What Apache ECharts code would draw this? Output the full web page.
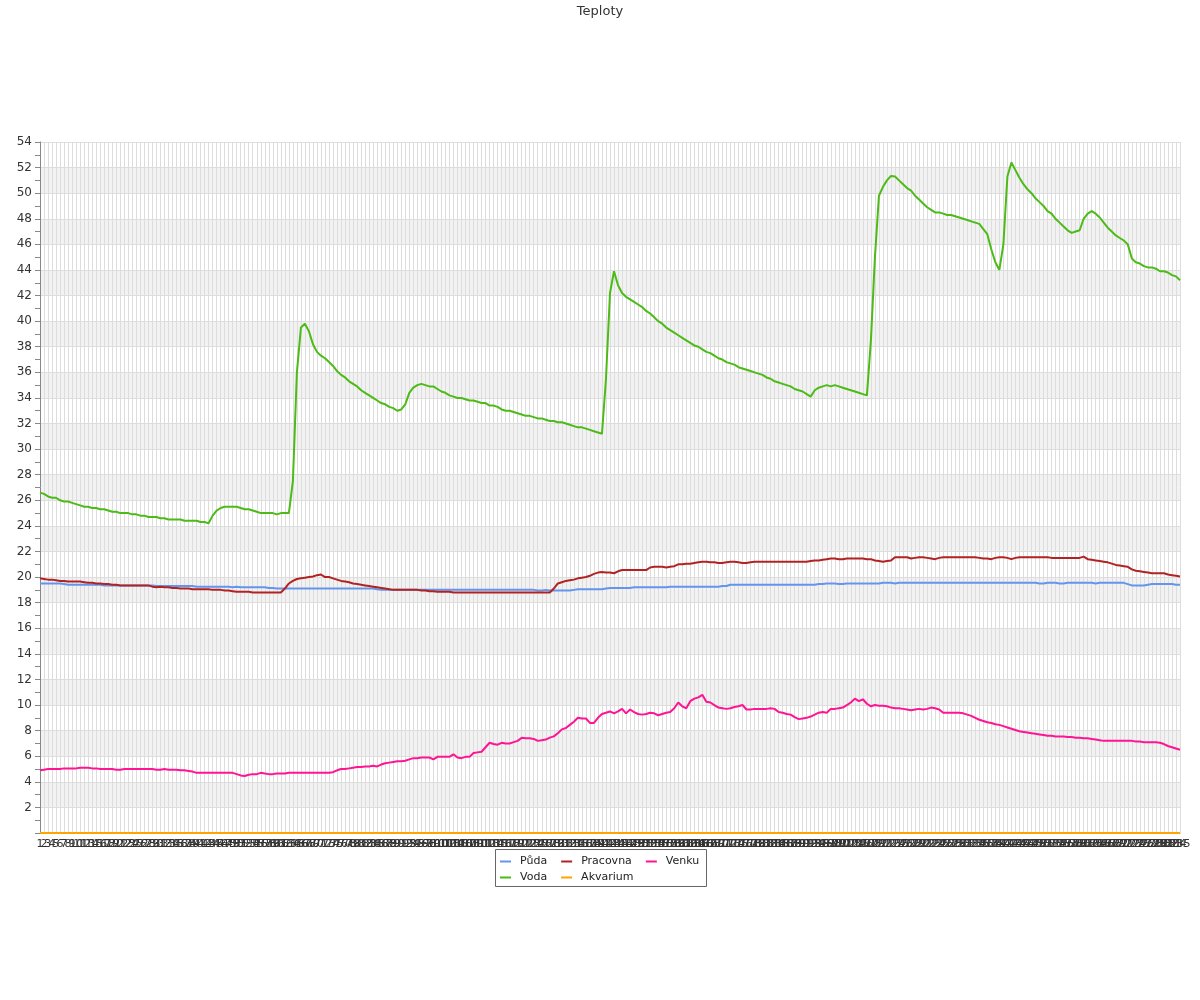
<!DOCTYPE html>
<html><head><meta charset="utf-8">
<script src="https://cdn.jsdelivr.net/npm/echarts@6/dist/echarts.min.js"></script>
<style>html,body{margin:0;padding:0;background:#fff}#c{width:1200px;height:1000px}</style>
</head><body><div id="c"></div>
<script>
const categories = [
1,2,3,4,5,6,7,8,9,10,11,12,13,14,15,16,17,18,19,20,
21,22,23,24,25,26,27,28,29,30,31,32,33,34,35,36,37,38,39,40,
41,42,43,44,45,46,47,48,49,50,51,52,53,54,55,56,57,58,59,60,
61,62,63,64,65,66,67,68,69,70,71,72,73,74,75,76,77,78,79,80,
81,82,83,84,85,86,87,88,89,90,91,92,93,94,95,96,97,98,99,100,
101,102,103,104,105,106,107,108,109,110,111,112,113,114,115,116,117,118,119,120,
121,122,123,124,125,126,127,128,129,130,131,132,133,134,135,136,137,138,139,140,
141,142,143,144,145,146,147,148,149,150,151,152,153,154,155,156,157,158,159,160,
161,162,163,164,165,166,167,168,169,170,171,172,173,174,175,176,177,178,179,180,
181,182,183,184,185,186,187,188,189,190,191,192,193,194,195,196,197,198,199,200,
201,202,203,204,205,206,207,208,209,210,211,212,213,214,215,216,217,218,219,220,
221,222,223,224,225,226,227,228,229,230,231,232,233,234,235,236,237,238,239,240,
241,242,243,244,245,246,247,248,249,250,251,252,253,254,255,256,257,258,259,260,
261,262,263,264,265,266,267,268,269,270,271,272,273,274,275,276,277,278,279,280,
281,282,283,284,285
];

const puda = [
19.5,19.5,19.5,19.5,19.5,19.5,19.45,19.4,19.4,19.4,
19.4,19.4,19.4,19.4,19.4,19.4,19.35,19.35,19.35,19.35,
19.35,19.35,19.35,19.35,19.35,19.35,19.35,19.35,19.35,19.3,
19.3,19.3,19.3,19.3,19.3,19.3,19.3,19.3,19.3,19.25,
19.25,19.25,19.25,19.25,19.25,19.25,19.25,19.25,19.2,19.25,
19.2,19.2,19.2,19.2,19.2,19.2,19.2,19.15,19.15,19.1,
19.1,19.1,19.1,19.1,19.1,19.1,19.1,19.1,19.1,19.1,
19.1,19.1,19.1,19.1,19.1,19.1,19.1,19.1,19.1,19.1,
19.1,19.1,19.1,19.1,19.05,19.0,19.0,19.0,19.0,19.0,
19.0,19.0,19.0,19.0,19.0,19.0,19.0,19.0,19.0,19.0,
19.0,19.0,19.0,19.0,19.0,19.0,19.0,19.0,19.0,19.0,
19.0,19.0,19.0,19.0,19.0,19.0,19.0,19.0,19.0,19.0,
19.0,19.0,19.0,19.0,18.95,18.95,19.0,18.95,18.95,18.95,
18.95,18.95,18.95,19.0,19.05,19.05,19.05,19.05,19.05,19.05,
19.05,19.1,19.15,19.15,19.15,19.15,19.15,19.15,19.2,19.2,
19.2,19.2,19.2,19.2,19.2,19.2,19.2,19.25,19.25,19.25,
19.25,19.25,19.25,19.25,19.25,19.25,19.25,19.25,19.25,19.25,
19.3,19.3,19.4,19.4,19.4,19.4,19.4,19.4,19.4,19.4,
19.4,19.4,19.4,19.4,19.4,19.4,19.4,19.4,19.4,19.4,
19.4,19.4,19.4,19.4,19.45,19.45,19.5,19.5,19.5,19.45,
19.45,19.5,19.5,19.5,19.5,19.5,19.5,19.5,19.5,19.5,
19.55,19.55,19.55,19.5,19.55,19.55,19.55,19.55,19.55,19.55,
19.55,19.55,19.55,19.55,19.55,19.55,19.55,19.55,19.55,19.55,
19.55,19.55,19.55,19.55,19.55,19.55,19.55,19.55,19.55,19.55,
19.55,19.55,19.55,19.55,19.55,19.55,19.55,19.55,19.55,19.5,
19.5,19.55,19.55,19.55,19.5,19.5,19.55,19.55,19.55,19.55,
19.55,19.55,19.55,19.5,19.55,19.55,19.55,19.55,19.55,19.55,
19.55,19.45,19.35,19.35,19.35,19.35,19.4,19.45,19.45,19.45,
19.45,19.45,19.45,19.4,19.4
];

const voda = [
26.6,26.5,26.3,26.2,26.2,26.0,25.9,25.9,25.8,25.7,
25.6,25.5,25.5,25.4,25.4,25.3,25.3,25.2,25.1,25.1,
25.0,25.0,25.0,24.9,24.9,24.8,24.8,24.7,24.7,24.7,
24.6,24.6,24.5,24.5,24.5,24.5,24.4,24.4,24.4,24.4,
24.3,24.3,24.2,24.8,25.2,25.4,25.5,25.5,25.5,25.5,
25.4,25.3,25.3,25.2,25.1,25.0,25.0,25.0,25.0,24.9,
25.0,25.0,25.0,27.5,36.0,39.5,39.8,39.2,38.2,37.6,
37.3,37.1,36.8,36.5,36.1,35.8,35.6,35.3,35.1,34.9,
34.6,34.4,34.2,34.0,33.8,33.6,33.5,33.3,33.2,33.0,
33.1,33.5,34.4,34.8,35.0,35.1,35.0,34.9,34.9,34.7,
34.5,34.4,34.2,34.1,34.0,34.0,33.9,33.8,33.8,33.7,
33.6,33.6,33.4,33.4,33.3,33.1,33.0,33.0,32.9,32.8,
32.7,32.6,32.6,32.5,32.4,32.4,32.3,32.2,32.2,32.1,
32.1,32.0,31.9,31.8,31.7,31.7,31.6,31.5,31.4,31.3,
31.2,35.5,42.2,43.9,42.8,42.2,41.9,41.7,41.5,41.3,
41.1,40.8,40.6,40.3,40.0,39.8,39.5,39.3,39.1,38.9,
38.7,38.5,38.3,38.1,38.0,37.8,37.6,37.5,37.3,37.1,
37.0,36.8,36.7,36.6,36.4,36.3,36.2,36.1,36.0,35.9,
35.8,35.6,35.5,35.3,35.2,35.1,35.0,34.9,34.7,34.6,
34.5,34.3,34.1,34.6,34.8,34.9,35.0,34.9,35.0,34.9,
34.8,34.7,34.6,34.5,34.4,34.3,34.2,38.5,45.0,49.8,
50.5,51.0,51.35,51.3,51.0,50.7,50.4,50.2,49.8,49.5,
49.2,48.9,48.7,48.5,48.5,48.4,48.3,48.3,48.2,48.1,
48.0,47.9,47.8,47.7,47.6,47.2,46.8,45.6,44.6,44.0,
46.0,51.3,52.4,51.8,51.2,50.7,50.3,50.0,49.6,49.3,
49.0,48.6,48.4,48.0,47.7,47.4,47.1,46.9,47.0,47.1,
48.0,48.4,48.6,48.4,48.1,47.7,47.3,47.0,46.7,46.5,
46.3,46.0,44.9,44.6,44.5,44.3,44.2,44.2,44.1,43.9,
43.9,43.8,43.6,43.5,43.2
];

const pracovna = [
19.9,19.85,19.8,19.8,19.75,19.7,19.7,19.65,19.65,19.65,
19.65,19.6,19.55,19.55,19.5,19.5,19.45,19.45,19.4,19.4,
19.35,19.35,19.35,19.35,19.35,19.35,19.35,19.35,19.25,19.2,
19.25,19.2,19.2,19.15,19.15,19.1,19.1,19.1,19.05,19.05,
19.05,19.05,19.05,19.0,19.0,19.0,18.95,18.95,18.9,18.85,
18.85,18.85,18.85,18.8,18.8,18.8,18.8,18.8,18.8,18.8,
18.8,19.1,19.5,19.7,19.85,19.9,19.95,20.0,20.05,20.15,
20.2,20.0,20.0,19.9,19.8,19.7,19.65,19.6,19.5,19.45,
19.4,19.35,19.3,19.25,19.2,19.15,19.1,19.05,19.0,19.0,
19.0,19.0,19.0,19.0,19.0,18.95,18.95,18.9,18.9,18.85,
18.85,18.85,18.85,18.8,18.8,18.8,18.8,18.8,18.8,18.8,
18.8,18.8,18.8,18.8,18.8,18.8,18.8,18.8,18.8,18.8,
18.8,18.8,18.8,18.8,18.8,18.8,18.8,18.8,19.1,19.5,
19.6,19.7,19.75,19.8,19.9,19.95,20.0,20.1,20.25,20.35,
20.4,20.35,20.35,20.3,20.45,20.55,20.55,20.55,20.55,20.55,
20.55,20.55,20.75,20.8,20.8,20.8,20.75,20.8,20.85,21.0,
21.0,21.05,21.05,21.1,21.15,21.2,21.2,21.15,21.15,21.1,
21.1,21.15,21.2,21.2,21.15,21.1,21.1,21.15,21.2,21.2,
21.2,21.2,21.2,21.2,21.2,21.2,21.2,21.2,21.2,21.2,
21.2,21.2,21.25,21.3,21.3,21.35,21.4,21.45,21.45,21.4,
21.4,21.45,21.45,21.45,21.45,21.45,21.4,21.4,21.3,21.25,
21.2,21.25,21.3,21.55,21.55,21.55,21.55,21.45,21.5,21.55,
21.55,21.5,21.45,21.4,21.5,21.55,21.55,21.55,21.55,21.55,
21.55,21.55,21.55,21.55,21.5,21.45,21.45,21.4,21.5,21.55,
21.55,21.5,21.4,21.5,21.55,21.55,21.55,21.55,21.55,21.55,
21.55,21.55,21.5,21.5,21.5,21.5,21.5,21.5,21.5,21.5,
21.6,21.4,21.35,21.3,21.25,21.2,21.15,21.05,20.95,20.9,
20.85,20.8,20.6,20.5,20.45,20.4,20.35,20.3,20.3,20.3,
20.3,20.2,20.15,20.1,20.05
];

const akvarium = [
0,0,0,0,0,0,0,0,0,0,0,0,0,0,0,0,0,0,0,0,
0,0,0,0,0,0,0,0,0,0,0,0,0,0,0,0,0,0,0,0,
0,0,0,0,0,0,0,0,0,0,0,0,0,0,0,0,0,0,0,0,
0,0,0,0,0,0,0,0,0,0,0,0,0,0,0,0,0,0,0,0,
0,0,0,0,0,0,0,0,0,0,0,0,0,0,0,0,0,0,0,0,
0,0,0,0,0,0,0,0,0,0,0,0,0,0,0,0,0,0,0,0,
0,0,0,0,0,0,0,0,0,0,0,0,0,0,0,0,0,0,0,0,
0,0,0,0,0,0,0,0,0,0,0,0,0,0,0,0,0,0,0,0,
0,0,0,0,0,0,0,0,0,0,0,0,0,0,0,0,0,0,0,0,
0,0,0,0,0,0,0,0,0,0,0,0,0,0,0,0,0,0,0,0,
0,0,0,0,0,0,0,0,0,0,0,0,0,0,0,0,0,0,0,0,
0,0,0,0,0,0,0,0,0,0,0,0,0,0,0,0,0,0,0,0,
0,0,0,0,0,0,0,0,0,0,0,0,0,0,0,0,0,0,0,0,
0,0,0,0,0,0,0,0,0,0,0,0,0,0,0,0,0,0,0,0,
0,0,0,0,0
];

const venku = [
4.9,4.95,5.0,5.0,5.0,5.0,5.05,5.05,5.05,5.05,
5.1,5.1,5.1,5.05,5.05,5.0,5.0,5.0,5.0,4.95,
4.95,5.0,5.0,5.0,5.0,5.0,5.0,5.0,5.0,4.95,
4.95,5.0,4.95,4.95,4.95,4.9,4.9,4.85,4.8,4.7,
4.7,4.7,4.7,4.7,4.7,4.7,4.7,4.7,4.7,4.6,
4.5,4.45,4.55,4.6,4.6,4.7,4.65,4.6,4.6,4.65,
4.65,4.65,4.7,4.7,4.7,4.7,4.7,4.7,4.7,4.7,
4.7,4.7,4.7,4.75,4.9,5.0,5.0,5.05,5.1,5.15,
5.15,5.2,5.2,5.25,5.2,5.35,5.45,5.5,5.55,5.6,
5.6,5.65,5.75,5.85,5.85,5.9,5.9,5.9,5.75,5.95,
5.95,5.95,5.95,6.15,5.9,5.85,5.95,5.95,6.25,6.3,
6.35,6.7,7.05,6.95,6.9,7.05,7.0,7.0,7.1,7.2,
7.45,7.4,7.4,7.35,7.2,7.25,7.3,7.45,7.55,7.8,
8.1,8.2,8.45,8.7,9.0,8.95,8.95,8.6,8.6,9.0,
9.3,9.4,9.5,9.35,9.5,9.7,9.35,9.65,9.45,9.3,
9.25,9.3,9.4,9.35,9.2,9.3,9.4,9.45,9.75,10.2,
9.9,9.75,10.3,10.5,10.6,10.8,10.25,10.2,10.0,9.8,
9.75,9.7,9.75,9.85,9.9,10.0,9.65,9.65,9.7,9.7,
9.7,9.7,9.75,9.7,9.45,9.4,9.3,9.25,9.05,8.9,
8.95,9.0,9.1,9.25,9.4,9.45,9.4,9.7,9.7,9.75,
9.8,10.0,10.2,10.5,10.3,10.45,10.1,9.9,10.0,9.95,
9.95,9.9,9.8,9.75,9.75,9.7,9.65,9.6,9.65,9.7,
9.65,9.7,9.8,9.75,9.65,9.4,9.4,9.4,9.4,9.4,
9.35,9.25,9.15,9.0,8.85,8.75,8.65,8.6,8.5,8.45,
8.35,8.25,8.15,8.05,7.95,7.9,7.85,7.8,7.75,7.7,
7.65,7.6,7.6,7.55,7.55,7.55,7.5,7.5,7.45,7.45,
7.4,7.4,7.35,7.3,7.25,7.2,7.2,7.2,7.2,7.2,
7.2,7.2,7.2,7.15,7.15,7.1,7.1,7.1,7.1,7.05,
6.95,6.8,6.7,6.6,6.5
];

const F = 'DejaVu Sans';
const chart = echarts.init(document.getElementById('c'), null, {renderer: 'canvas'});

function lineSeries(name, data, color) {
  return {
    name: name, type: 'line', data: data, symbol: 'none', showSymbol: false,
    lineStyle: {color: color, width: 2}, itemStyle: {color: color}, animation: false
  };
}

const legendCommon = {
  left: 500, itemGap: 14, itemWidth: 11, itemHeight: 2, icon: 'rect', padding: 0,
  textStyle: {fontSize: 11, color: '#222', fontFamily: F, padding: [0, 0, 0, 4]}
};

chart.setOption({
  animation: false,
  textStyle: {fontFamily: F},
  title: {text: 'Teploty', left: 'center', top: 0,
    textStyle: {fontSize: 13, fontWeight: 'normal', color: '#333', fontFamily: F}},
  grid: {left: 40, right: 20, top: 142, bottom: 167, containLabel: false},
  legend: [
    Object.assign({}, legendCommon, {data: ['Půda', 'Pracovna', 'Venku'], top: 856}),
    Object.assign({}, legendCommon, {data: ['Voda', 'Akvarium'], top: 872})
  ],
  graphic: [{
    type: 'rect', shape: {x: 495.5, y: 849.5, width: 211, height: 37},
    style: {fill: 'none', stroke: '#666', lineWidth: 1}, silent: true
  }],
  xAxis: {
    type: 'category', data: categories, boundaryGap: false,
    axisLine: {lineStyle: {color: '#999'}},
    axisTick: {show: false},
    axisLabel: {interval: 0, fontSize: 11, color: '#333', margin: 6, hideOverlap: false, fontFamily: F},
    splitLine: {show: true, interval: 0, lineStyle: {color: '#ddd', width: 1}}
  },
  yAxis: {
    type: 'value', min: 0, max: 54, interval: 2,
    axisLine: {show: true, lineStyle: {color: '#888'}},
    axisTick: {show: true, length: 5, lineStyle: {color: '#888'}},
    minorTick: {show: true, splitNumber: 2, length: 5, lineStyle: {color: '#888'}},
    axisLabel: {fontSize: 12, color: '#333', showMinLabel: false, margin: 8, fontFamily: F},
    splitLine: {show: true, lineStyle: {color: '#ddd'}},
    splitArea: {show: true, areaStyle: {color: ['#ffffff', '#f2f2f2']}}
  },
  series: [
    lineSeries('Půda', puda, '#6495ED'),
    lineSeries('Voda', voda, '#4CBB17'),
    lineSeries('Pracovna', pracovna, '#B22222'),
    lineSeries('Akvarium', akvarium, '#FFA500'),
    lineSeries('Venku', venku, '#FF1493')
  ]
});
</script>
</body></html>
